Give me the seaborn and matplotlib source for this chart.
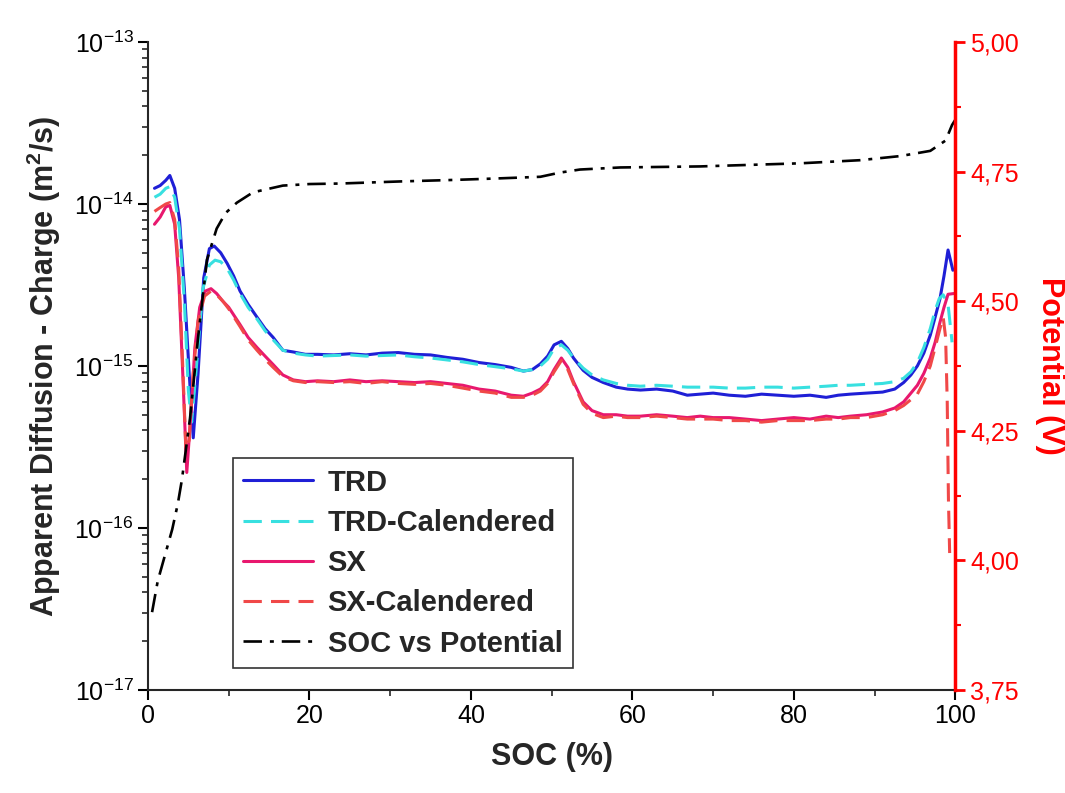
import numpy as np
import pandas as pd
import matplotlib
matplotlib.use("Agg")
import matplotlib.pyplot as plt
import seaborn as sns
from matplotlib.ticker import (FuncFormatter, MultipleLocator, FixedLocator,
                               NullFormatter, LogFormatterSciNotation)

# ---------------- data ----------------
trd_x = [0.8, 1.5, 2.2, 2.7, 3.3, 3.9, 4.5, 5.1, 5.6, 6.2, 6.9, 7.6, 8.2, 9.0, 9.8, 10.6,
         11.4, 12.4, 13.5, 14.5, 15.5, 16.7, 18, 19.5, 21, 23, 25, 27, 29, 31, 33, 35, 37,
         39, 41, 43, 45, 46.5, 47.6, 48.6, 49.5, 50.3, 51.2, 52, 52.7, 53.9, 55, 56.4, 58,
         59.4, 61, 63, 65, 66.8, 68.4, 70, 72, 74, 76, 78, 80, 82, 84, 85.5, 87, 89, 91,
         92.5, 93.6, 94.5, 95.3, 96.1, 96.9, 97.5, 98.1, 98.6, 99.1, 99.7]
trd_y = [12.5, 13.0, 14.0, 15.0, 12.5, 8.0, 3.0, 0.9, 0.36, 0.9, 3.5, 5.3, 5.5, 5.0, 4.3, 3.6,
         2.9, 2.4, 2.0, 1.7, 1.5, 1.25, 1.22, 1.18, 1.18, 1.17, 1.19, 1.17, 1.20, 1.21, 1.18,
         1.17, 1.13, 1.10, 1.05, 1.02, 0.98, 0.93, 0.95, 1.03, 1.15, 1.35, 1.42, 1.28, 1.12,
         0.94, 0.85, 0.79, 0.74, 0.72, 0.71, 0.72, 0.70, 0.66, 0.67, 0.68, 0.66, 0.65, 0.67,
         0.66, 0.65, 0.66, 0.64, 0.66, 0.67, 0.68, 0.69, 0.72, 0.79, 0.88, 1.0, 1.2, 1.55,
         2.0, 2.6, 3.6, 5.2, 3.9]

trdc_x = [0.8, 1.5, 2.2, 2.7, 3.3, 3.9, 4.5, 5.0, 5.4, 6.0, 6.8, 7.6, 8.3, 9.0, 9.8, 10.6,
          11.4, 12.4, 13.5, 14.5, 15.5, 16.7, 18, 19.5, 21, 23, 25, 27, 29, 31, 33, 35, 37,
          39, 41, 43, 45, 46.5, 47.6, 48.6, 49.5, 50.3, 51.2, 52, 52.7, 53.9, 55, 56.4, 58,
          59.4, 61, 63, 65, 66.8, 68.4, 70, 72, 74, 76, 78, 80, 82, 84, 85.5, 87, 89, 91,
          92.5, 93.6, 94.5, 95.3, 96.1, 96.9, 97.5, 98.0, 98.5, 99.1, 99.6]
trdc_y = [11.0, 11.5, 12.5, 12.8, 11.0, 7.0, 2.5, 0.7, 0.45, 1.0, 3.0, 4.2, 4.5, 4.4, 4.0, 3.4,
          2.8, 2.3, 1.95, 1.65, 1.45, 1.25, 1.2, 1.17, 1.15, 1.16, 1.17, 1.15, 1.16, 1.17,
          1.14, 1.12, 1.09, 1.06, 1.02, 0.99, 0.96, 0.93, 0.95, 1.0, 1.1, 1.28, 1.35, 1.25,
          1.12, 0.97, 0.88, 0.82, 0.78, 0.76, 0.75, 0.76, 0.75, 0.74, 0.74, 0.74, 0.73, 0.73,
          0.74, 0.74, 0.73, 0.74, 0.75, 0.76, 0.76, 0.77, 0.78, 0.80, 0.84, 0.92, 1.05, 1.3,
          1.7, 2.2, 2.6, 2.75, 2.4, 1.4]

sx_x = [0.8, 1.5, 2.2, 2.7, 3.3, 3.8, 4.3, 4.8, 5.3, 5.8, 6.4, 7.1, 7.8, 8.5, 9.3, 10.0,
        11.4, 12.4, 13.5, 14.5, 15.5, 16.7, 18, 19.5, 21, 23, 25, 27, 29, 31, 33, 35, 37,
        39, 41, 43, 45, 46.5, 47.6, 48.6, 49.5, 50.3, 51.2, 52, 52.7, 53.9, 55, 56.4, 58,
        59.4, 61, 63, 65, 66.8, 68.4, 70, 72, 74, 76, 78, 80, 82, 84, 85.5, 87, 89, 91,
        92.5, 93.6, 94.5, 95.3, 96.1, 96.9, 97.5, 98.1, 98.6, 99.1, 99.8]
sx_y = [7.5, 8.3, 9.6, 9.8, 7.5, 3.5, 0.9, 0.22, 0.5, 1.3, 2.3, 2.9, 3.0, 2.8, 2.5, 2.3,
        1.8, 1.5, 1.3, 1.15, 1.02, 0.88, 0.82, 0.80, 0.81, 0.80, 0.82, 0.80, 0.81, 0.80,
        0.79, 0.80, 0.78, 0.76, 0.72, 0.70, 0.66, 0.65, 0.68, 0.72, 0.80, 0.95, 1.12, 0.98,
        0.80, 0.60, 0.53, 0.50, 0.50, 0.49, 0.49, 0.50, 0.49, 0.48, 0.49, 0.48, 0.48, 0.47,
        0.46, 0.47, 0.48, 0.47, 0.49, 0.48, 0.49, 0.50, 0.52, 0.55, 0.60, 0.68, 0.76, 0.9,
        1.12, 1.4, 1.86, 2.3, 2.77, 2.8]

sxc_x = [0.8, 1.5, 2.2, 2.7, 3.3, 3.8, 4.3, 4.7, 5.1, 5.6, 6.2, 7.0, 7.8, 8.5, 9.3, 10.0,
         11.4, 12.4, 13.5, 14.5, 15.5, 16.7, 18, 19.5, 21, 23, 25, 27, 29, 31, 33, 35, 37,
         39, 41, 43, 45, 46.5, 47.6, 48.6, 49.5, 50.3, 51.2, 52, 52.7, 53.9, 55, 56.4, 58,
         59.4, 61, 63, 65, 66.8, 68.4, 70, 72, 74, 76, 78, 80, 82, 84, 85.5, 87, 89, 91,
         92.5, 93.6, 94.5, 95.3, 96.1, 96.9, 97.5, 98.1, 98.5, 98.8, 99.0, 99.15, 99.3]
sxc_y = [9.0, 9.5, 10.0, 10.2, 8.0, 4.0, 1.0, 0.3, 0.35, 0.9, 1.9, 2.7, 2.9, 2.75, 2.5, 2.25,
         1.75, 1.45, 1.25, 1.1, 0.98, 0.86, 0.81, 0.79, 0.80, 0.79, 0.80, 0.78, 0.80, 0.78,
         0.77, 0.78, 0.76, 0.73, 0.70, 0.68, 0.64, 0.64, 0.66, 0.70, 0.78, 0.92, 1.08, 0.95,
         0.78, 0.58, 0.51, 0.48, 0.49, 0.48, 0.48, 0.49, 0.48, 0.47, 0.47, 0.47, 0.46, 0.46,
         0.45, 0.46, 0.46, 0.46, 0.47, 0.47, 0.48, 0.48, 0.50, 0.53, 0.57, 0.62, 0.67, 0.8,
         1.0, 1.3, 1.7, 2.0, 1.5, 0.6, 0.15, 0.07]

soc_x = [0.5, 1.2, 2.1, 3.0, 3.7, 4.2, 5.2, 6.2, 7.3, 8.5, 9.6, 11.0, 13.0, 16.7, 20, 23.8,
         31.2, 38, 43.6, 48.6, 51.0, 53.5, 58.5, 68.4, 80.8, 88.2, 93.2, 96.9, 98.8, 99.6, 100]
soc_v = [3.90, 3.96, 4.01, 4.06, 4.11, 4.156, 4.274, 4.43, 4.58, 4.64, 4.67, 4.69, 4.71, 4.723,
         4.726, 4.727, 4.731, 4.734, 4.737, 4.74, 4.748, 4.754, 4.758, 4.76, 4.766, 4.772,
         4.78, 4.79, 4.81, 4.84, 4.85]

x_ticks = [0, 20, 40, 60, 80, 100]
d_ticks = [1e-17, 1e-16, 1e-15, 1e-14, 1e-13]
v_ticks = [3.75, 4.00, 4.25, 4.50, 4.75, 5.00]

# ---------------- style ----------------
sns.set_style("ticks")
plt.rcParams["font.family"] = ["Liberation Sans", "DejaVu Sans"]
plt.rcParams["mathtext.fontset"] = "custom"
plt.rcParams["mathtext.rm"] = "Liberation Sans"
plt.rcParams["mathtext.it"] = "Liberation Sans:italic"
plt.rcParams["mathtext.bf"] = "Liberation Sans:bold"

fig = plt.figure(figsize=(10.65, 7.93), dpi=100)
ax = fig.add_axes([0.139, 0.130, 0.758, 0.817])
ax2 = ax.twinx()

lw = 2.2
dash = (0, (6, 3))
series = [
    ("TRD", trd_x, trd_y, "#1f1fd6", "-"),
    ("TRD-Calendered", trdc_x, trdc_y, "#38e0e0", dash),
    ("SX", sx_x, sx_y, "#e8186e", "-"),
    ("SX-Calendered", sxc_x, sxc_y, "#f04848", dash),
]
for name, xs, ys, col, ls in series:
    df = pd.DataFrame({"SOC": xs, "D": np.array(ys) * 1e-15})
    sns.lineplot(data=df, x="SOC", y="D", ax=ax, color=col, lw=lw, label=name,
                 linestyle=ls, sort=False, estimator=None, legend=True)

dfv = pd.DataFrame({"SOC": soc_x, "V": soc_v})
sns.lineplot(data=dfv, x="SOC", y="V", ax=ax2, color="black", lw=1.9,
             linestyle=(0, (7, 3, 1.5, 3)), label="SOC vs Potential",
             sort=False, estimator=None)
ax2.set_xlabel("")

ax.set_yscale("log")
ax.set_ylim(d_ticks[0], d_ticks[-1])
ax.set_xlim(0, 100)
ax.xaxis.set_major_locator(FixedLocator(x_ticks))
ax.xaxis.set_minor_locator(FixedLocator([10, 30, 50, 70, 90]))
ax.yaxis.set_major_locator(FixedLocator(d_ticks))
ax.yaxis.set_major_formatter(LogFormatterSciNotation())
minor_d = [m * d for d in d_ticks[:-1] for m in range(2, 10)]
ax.yaxis.set_minor_locator(FixedLocator(minor_d))
ax.yaxis.set_minor_formatter(NullFormatter())

ax2.set_ylim(v_ticks[0], v_ticks[-1])
ax2.yaxis.set_major_locator(FixedLocator(v_ticks))
ax2.yaxis.set_minor_locator(FixedLocator([3.875, 4.125, 4.375, 4.625, 4.875]))
ax2.yaxis.set_major_formatter(FuncFormatter(lambda v, p: f"{v:.2f}".replace(".", ",")))

for a in (ax, ax2):
    a.spines["top"].set_visible(False)
ax.spines["right"].set_visible(False)
ax.spines["left"].set_linewidth(1.5)
ax.spines["bottom"].set_linewidth(1.5)
ax2.spines["left"].set_visible(False)
ax2.spines["bottom"].set_visible(False)
ax2.spines["right"].set_color("#ff0000")
ax2.spines["right"].set_linewidth(2.5)

ax.tick_params(axis="both", which="major", direction="out", length=7, width=1.5,
               labelsize=18, colors="black")
ax.tick_params(axis="both", which="minor", direction="out", length=4, width=1.2)
ax2.tick_params(axis="y", which="major", direction="out", length=7, width=2,
                labelsize=18, colors="#ff0000")
ax2.tick_params(axis="y", which="minor", direction="out", length=4, width=1.5,
                colors="#ff0000")

ax.set_xlabel("SOC (%)", fontsize=22, fontweight="bold", labelpad=10)
ax.set_ylabel("Apparent Diffusion - Charge (m$^\\mathbf{2}$/s)", fontsize=22,
              fontweight="bold")
ax.yaxis.set_label_coords(-0.105, 0.5)
ax2.set_ylabel("Potential (V)", fontsize=22, fontweight="bold", color="#ff0000",
               rotation=270, va="center")
ax2.yaxis.set_label_coords(1.117, 0.5)

h1, l1 = ax.get_legend_handles_labels()
h2, l2 = ax2.get_legend_handles_labels()
if ax2.get_legend():
    ax2.get_legend().remove()
if ax.get_legend():
    ax.get_legend().remove()
leg = ax2.legend(h1 + h2, l1 + l2, loc="lower left", bbox_to_anchor=(0.105, 0.034),
                 borderaxespad=0, prop={"weight": "bold", "size": 21}, frameon=True,
                 fancybox=False, edgecolor="black", handlelength=2.4,
                 borderpad=0.35, labelspacing=0.42, handletextpad=0.5)
leg.get_frame().set_linewidth(1.2)

fig.savefig("out.png", dpi=100)
